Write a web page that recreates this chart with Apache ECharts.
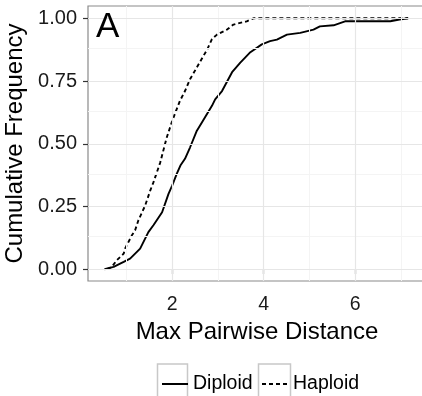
<!DOCTYPE html>
<html><head><meta charset="utf-8">
<script src="https://cdn.jsdelivr.net/npm/echarts@6/dist/echarts.min.js"></script>
<style>html,body{margin:0;padding:0;background:#fff}#c{width:422px;height:396px}</style>
</head><body><div id="c"></div>
<script>
var diploidX = [0.52,0.72,0.94,1.08,1.30,1.48,1.59,1.78,1.92,2.00,2.10,2.18,2.28,2.39,2.54,2.65,2.87,2.94,3.09,3.31,3.49,3.71,3.96,4.14,4.29,4.51,4.80,5.09,5.23,5.53,5.78,6.77,6.97,7.16];
var diploidY = [0,0.009,0.029,0.042,0.082,0.148,0.175,0.227,0.30,0.333,0.38,0.413,0.44,0.485,0.552,0.585,0.651,0.677,0.71,0.785,0.823,0.865,0.896,0.909,0.915,0.935,0.942,0.955,0.968,0.972,0.988,0.988,0.995,1.0];
var haploidX = [0.58,0.68,0.79,0.94,0.97,1.12,1.19,1.26,1.41,1.52,1.59,1.74,1.88,1.99,2.07,2.17,2.28,2.39,2.52,2.68,2.77,2.87,2.98,3.20,3.34,3.63,3.78,7.16];
var haploidY = [0,0.009,0.036,0.062,0.082,0.135,0.155,0.194,0.254,0.313,0.346,0.426,0.524,0.585,0.624,0.671,0.71,0.757,0.798,0.849,0.877,0.917,0.935,0.955,0.975,0.988,1.0,1.0];
var xTicks = [2,4,6];
var xMinor = [1,3,5,7];
var yTicks = [0,0.25,0.5,0.75,1];
var yMinor = [0.125,0.375,0.625,0.875];

function zip(a,b){return a.map(function(v,i){return [v,b[i]];});}
var FONT = 'Liberation Sans, Arial, sans-serif';
var gridLines = [];
xMinor.forEach(function(v){gridLines.push({xAxis:v,lineStyle:{color:'#f4f4f4',width:1,type:'solid'}});});
yMinor.forEach(function(v){gridLines.push({yAxis:v,lineStyle:{color:'#f4f4f4',width:1,type:'solid'}});});
xTicks.forEach(function(v){gridLines.push({xAxis:v,lineStyle:{color:'#e6e6e6',width:1.2,type:'solid'}});});
yTicks.forEach(function(v){gridLines.push({yAxis:v,lineStyle:{color:'#e6e6e6',width:1.2,type:'solid'}});});

var legendCommon = {top:374,itemWidth:26,itemHeight:14,padding:0,
  itemStyle:{opacity:0,borderWidth:0},
  textStyle:{fontFamily:FONT,fontSize:19.5,color:'#000'}};

var chart = echarts.init(document.getElementById('c'), null, {renderer:'canvas'});
chart.setOption({
  animation:false,
  backgroundColor:'#fff',
  grid:{left:88,top:6,right:-4,bottom:115,show:true,borderColor:'#8a8a8a',borderWidth:1.2,backgroundColor:'transparent',
    containLabel:false,outerBoundsMode:'none'},
  xAxis:{type:'value',min:0.16,max:7.55,
    name:'Max Pairwise Distance',nameLocation:'middle',nameGap:23,
    nameTextStyle:{fontFamily:FONT,fontSize:24,color:'#000'},
    axisLine:{show:false},
    axisTick:{show:true,length:5,customValues:xTicks,lineStyle:{color:'#333',width:1.2}},
    axisLabel:{customValues:xTicks,margin:14,fontFamily:FONT,fontSize:19.5,color:'#1a1a1a'},
    splitLine:{show:false}},
  yAxis:{type:'value',min:-0.047,max:1.049,
    name:'Cumulative Frequency',nameLocation:'middle',nameGap:51,nameRotate:90,
    nameTextStyle:{fontFamily:FONT,fontSize:24,color:'#000'},
    axisLine:{show:false},
    axisTick:{show:true,length:5,customValues:yTicks,lineStyle:{color:'#333',width:1.2}},
    axisLabel:{customValues:yTicks,margin:11,fontFamily:FONT,fontSize:20,color:'#1a1a1a',
      formatter:function(v){return v.toFixed(2);}},
    splitLine:{show:false}},
  legend:[
    Object.assign({data:['Diploid'],left:161},legendCommon),
    Object.assign({data:['Haploid'],left:261},legendCommon)
  ],
  graphic:[
    {type:'rect',shape:{x:157.5,y:364,width:30,height:40},style:{fill:'none',stroke:'#c8c8c8',lineWidth:1.5}},
    {type:'rect',shape:{x:258.5,y:364,width:32,height:40},style:{fill:'none',stroke:'#c8c8c8',lineWidth:1.5}},
    {type:'text',left:96,top:10,z:10,style:{text:'A',font:'35px '+FONT,fill:'#000'}}
  ],
  series:[
    {type:'line',name:'_grid',data:[[1,0.5]],showSymbol:false,symbol:'none',silent:true,z:0,
     lineStyle:{opacity:0},
     markLine:{silent:true,symbol:'none',label:{show:false},animation:false,data:gridLines}},
    {type:'line',name:'Diploid',data:zip(diploidX,diploidY),showSymbol:false,symbol:'none',z:3,
     lineStyle:{color:'#000',width:1.9,type:'solid'},itemStyle:{color:'#000'}},
    {type:'line',name:'Haploid',data:zip(haploidX,haploidY),showSymbol:false,symbol:'none',z:3,
     lineStyle:{color:'#000',width:1.9,type:[4,3]},itemStyle:{color:'#000'}}
  ]
});
</script></body></html>
